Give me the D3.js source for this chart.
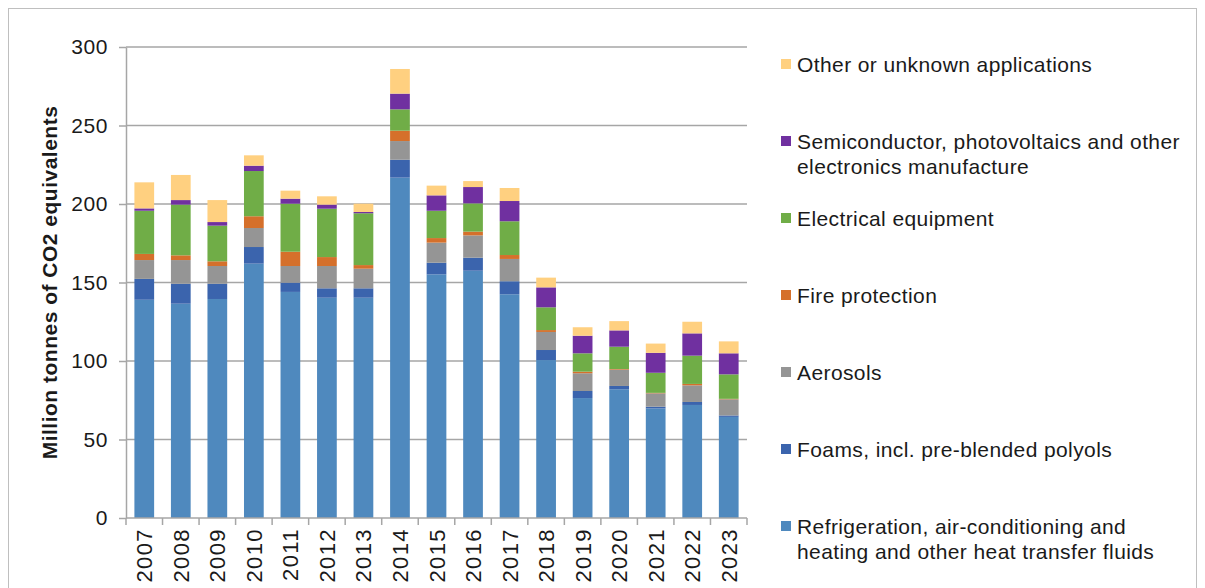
<!DOCTYPE html>
<html>
<head>
<meta charset="utf-8">
<script src="https://cdn.jsdelivr.net/npm/d3@7"></script>
<style>
  body { margin: 0; background: #fff; }
  svg { font-family: "Liberation Sans", Arial, sans-serif; }
</style>
</head>
<body>
<div id="chart"></div>
<script>
// years on the x axis
var years = ["2007", "2008", "2009", "2010", "2011", "2012", "2013", "2014", "2015",
  "2016", "2017", "2018", "2019", "2020", "2021", "2022", "2023"];

// series values, million tonnes CO2 eq
var refrigeration = [139, 136.5, 139.5, 162, 144, 140.3, 140.3, 216.8, 155.2, 157.5, 142.5, 100.6, 76.4, 82, 69.8, 72, 64.4];
var foams = [13.3, 12.7, 9.7, 10.6, 5.9, 6, 6, 11.4, 7.4, 8.3, 8.3, 6.4, 4.5, 2.1, 1.1, 1.9, 0.9];
var aerosols = [12, 15.1, 11.3, 12.1, 10.6, 14.2, 12.5, 11.9, 12.8, 14.2, 14.2, 11.5, 11.3, 10.4, 8.5, 10.6, 10.3];
var fireProtection = [3.9, 3, 3, 7.5, 9.1, 5.7, 2.3, 6.6, 2.9, 2.4, 2.5, 1.2, 1.0, 0.4, 0.3, 0.9, 0.3];
var electrical = [27.5, 32.3, 22.7, 28.8, 30.6, 30.8, 33, 13.6, 17.4, 18, 21.5, 14.5, 11.7, 14.2, 12.8, 18, 15.6];
var semiconductor = [1.5, 2.9, 2.3, 3.4, 3.2, 2.6, 0.8, 10, 9.8, 10.4, 12.9, 12.7, 11.2, 10.4, 12.7, 14.2, 13.4];
var other = [16.6, 16, 14, 6.6, 5.1, 5.3, 5.3, 15.7, 6.2, 3.8, 8.3, 6.2, 5.4, 5.9, 5.9, 7.4, 7.6];

var yTicks = [0, 50, 100, 150, 200, 250, 300];

// stacking order, bottom first
var seriesKeys = ["refrigeration", "foams", "aerosols", "fire", "electrical", "semi", "other"];
var seriesValues = [refrigeration, foams, aerosols, fireProtection, electrical, semiconductor, other];
var seriesLabels = [
  ["Refrigeration, air-conditioning and", "heating and other heat transfer fluids"],
  ["Foams, incl. pre-blended polyols"],
  ["Aerosols"],
  ["Fire protection"],
  ["Electrical equipment"],
  ["Semiconductor, photovoltaics and other", "electronics manufacture"],
  ["Other or unknown applications"]
];
var colors = ["#4f89be", "#3b64ad", "#959595", "#d5702b", "#70ad47", "#7030a0", "#ffd080"];

var svgWidth = 1205;
var svgHeight = 588;

var margin = { top: 47, right: 458, bottom: 70, left: 126 };
var width = svgWidth - margin.left - margin.right;
var height = svgHeight - margin.top - margin.bottom;

var svg = d3.select("#chart")
  .append("svg")
  .attr("width", svgWidth)
  .attr("height", svgHeight);

// outer frame
svg.append("rect")
  .attr("x", 8.5)
  .attr("y", 8.5)
  .attr("width", 1188)
  .attr("height", 600)
  .attr("fill", "none")
  .attr("stroke", "#bfbfbf")
  .attr("stroke-width", 1);

var chartGroup = svg.append("g")
  .attr("transform", `translate(${margin.left}, ${margin.top})`);

// build rows for d3.stack
var table = years.map(function(y, i) {
  var row = { year: y };
  seriesKeys.forEach(function(k, j) { row[k] = seriesValues[j][i]; });
  return row;
});

var stacked = d3.stack().keys(seriesKeys)(table);

var xScale = d3.scaleBand()
  .domain(years)
  .range([0, width])
  .paddingInner(0.46)
  .paddingOuter(0.23);

var yScale = d3.scaleLinear()
  .domain([0, 300])
  .range([height, 0]);

// gridlines
chartGroup.append("g")
  .selectAll("line")
  .data(yTicks.slice(1))
  .enter()
  .append("line")
  .attr("x1", 0)
  .attr("x2", width)
  .attr("y1", d => yScale(d))
  .attr("y2", d => yScale(d))
  .attr("stroke", "#a6a6a6")
  .attr("stroke-width", 1.5);

// bars
chartGroup.selectAll(".series")
  .data(stacked)
  .enter()
  .append("g")
  .attr("class", "series")
  .attr("fill", (d, i) => colors[i])
  .selectAll("rect")
  .data(d => d)
  .enter()
  .append("rect")
  .attr("x", d => xScale(d.data.year))
  .attr("width", xScale.bandwidth())
  .attr("y", d => yScale(d[1]))
  .attr("height", d => yScale(d[0]) - yScale(d[1]));

// y axis
var leftAxis = d3.axisLeft(yScale)
  .tickValues(yTicks)
  .tickSizeInner(7)
  .tickSizeOuter(0)
  .tickPadding(11);

var yAxis = chartGroup.append("g").call(leftAxis);
yAxis.select(".domain").attr("stroke", "#a6a6a6").attr("stroke-width", 1.5);
yAxis.selectAll(".tick line").attr("stroke", "#a6a6a6").attr("stroke-width", 1.5);
yAxis.selectAll(".tick text")
  .style("font-size", "21px")
  .style("letter-spacing", "0.6px")
  .attr("fill", "#1a1a1a");

// x axis: line plus ticks at category boundaries
var xAxis = chartGroup.append("g")
  .attr("transform", `translate(0, ${height})`);

xAxis.append("line")
  .attr("x1", 0)
  .attr("x2", width)
  .attr("stroke", "#a6a6a6")
  .attr("stroke-width", 1.5);

var step = xScale.step();
xAxis.selectAll(".xtick")
  .data(d3.range(years.length + 1))
  .enter()
  .append("line")
  .attr("class", "xtick")
  .attr("x1", i => i * step)
  .attr("x2", i => i * step)
  .attr("y1", 0)
  .attr("y2", 7)
  .attr("stroke", "#a6a6a6")
  .attr("stroke-width", 1.5);

xAxis.selectAll(".xlabel")
  .data(years)
  .enter()
  .append("text")
  .attr("class", "xlabel")
  .attr("transform", d => `translate(${xScale(d) + xScale.bandwidth() / 2 + 8}, 10) rotate(-90)`)
  .attr("text-anchor", "end")
  .style("font-size", "22px")
  .style("letter-spacing", "1.4px")
  .attr("fill", "#1a1a1a")
  .text(d => d);

// y axis title
svg.append("text")
  .attr("transform", `translate(57, ${margin.top + height / 2}) rotate(-90)`)
  .attr("text-anchor", "middle")
  .style("font-size", "21px")
  .style("font-weight", "bold")
  .style("letter-spacing", "0.5px")
  .attr("fill", "#1a1a1a")
  .text("Million tonnes of CO2 equivalents");

// legend, top item is the last series
var legend = svg.append("g")
  .attr("transform", "translate(781, 0)");

var legendItems = legend.selectAll(".legend-item")
  .data(d3.range(seriesKeys.length).reverse())
  .enter()
  .append("g")
  .attr("class", "legend-item")
  .attr("transform", (d, i) => `translate(0, ${64 + i * 77})`);

legendItems.append("rect")
  .attr("x", 0)
  .attr("y", -5)
  .attr("width", 10)
  .attr("height", 10)
  .attr("fill", d => colors[d]);

legendItems.each(function(d) {
  var g = d3.select(this);
  seriesLabels[d].forEach(function(line, k) {
    g.append("text")
      .attr("x", 16)
      .attr("y", k * 25)
      .attr("dy", "0.36em")
      .style("font-size", "21px")
      .style("letter-spacing", "0.4px")
      .attr("fill", "#1a1a1a")
      .text(line);
  });
});
</script>
</body>
</html>
